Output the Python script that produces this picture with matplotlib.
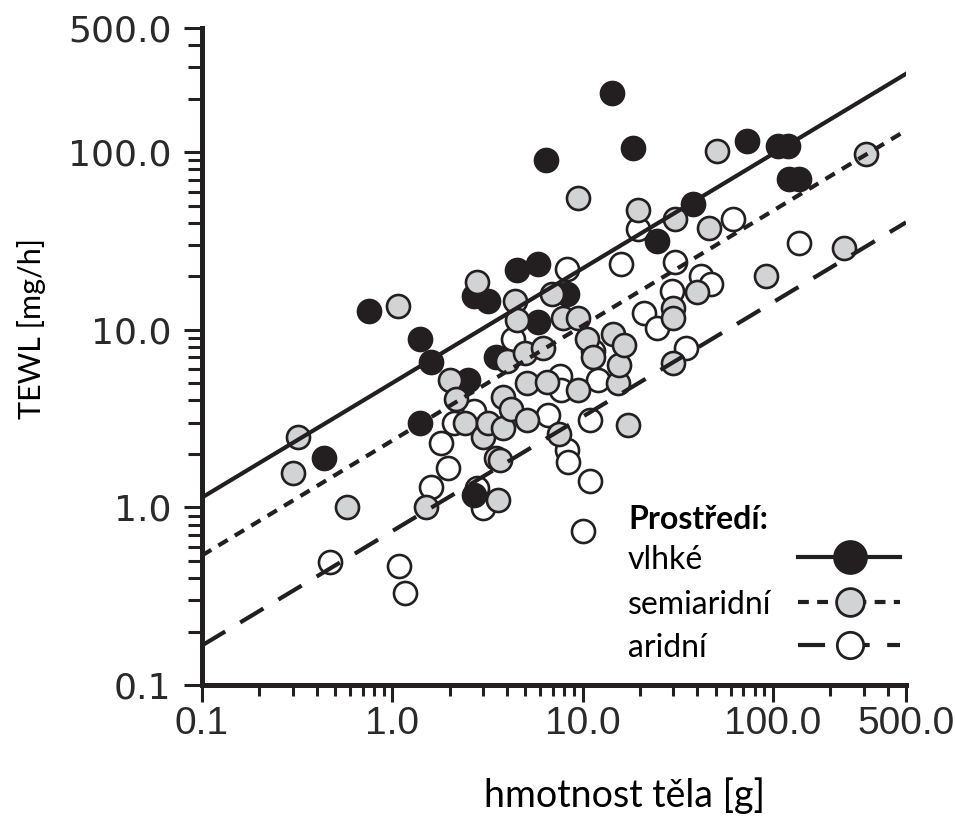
'''TEWL vs. body mass.

Log-log scatter of transepidermal water loss (TEWL) against body mass for
three environments (humid, semiarid, arid) with the fitted allometric lines.
'''

# ----------------------------------------------------------------------------
# Modules
from matplotlib import pyplot as plt
from matplotlib.ticker import FixedLocator, FixedFormatter, LogLocator, \
    NullFormatter
import numpy as np

# ----------------------------------------------------------------------------
# Data

# vlhké
humid_mass = [0.44, 0.75, 1.4, 1.6, 1.4, 2.5, 2.7, 2.7, 3.2, 3.5, 4.5, 5.8,
              5.8, 8.3, 6.4, 14.2, 18.3, 24.5, 38, 73, 106, 120, 121, 137]
humid_tewl = [1.9, 12.8, 8.9, 6.6, 3.0, 5.2, 1.17, 15.6, 14.6, 7.0, 21.6,
              23.6, 11.0, 16.0, 90, 216, 106, 31.8, 51, 115, 109, 109, 71, 71]

# semiaridní
semiarid_mass = [0.32, 0.30, 0.58, 1.07, 1.5, 2.0, 2.15, 2.4, 2.8, 3.0, 3.2,
                 3.5, 3.7, 3.6, 3.8, 3.8, 4.0, 4.2, 4.4, 4.5, 5.0, 5.1, 5.1,
                 6.2, 6.5, 6.9, 7.5, 7.9, 9.5, 9.5, 9.5, 10.6, 11.4, 14.4,
                 15.3, 15.5, 16.4, 17.3, 19.5, 30, 30, 30, 30.5, 40, 46, 51,
                 92, 236, 310]
semiarid_tewl = [2.5, 1.57, 1.0, 13.7, 1.0, 5.2, 4.1, 3.0, 18.5, 2.5, 3.0,
                 1.9, 1.85, 1.1, 4.2, 2.8, 6.7, 3.6, 14.6, 11.3, 7.4, 3.1, 5.0,
                 7.9, 5.1, 16.0, 2.6, 11.7, 11.7, 4.6, 55, 8.9, 7.0, 9.5, 5.0,
                 6.3, 8.2, 2.9, 47, 13.2, 11.7, 6.5, 42, 16.4, 37.6, 101, 20,
                 29, 98]

# aridní
arid_mass = [0.47, 1.09, 1.17, 1.6, 1.8, 1.95, 2.1, 2.7, 2.8, 3.0, 4.3, 6.6,
             7.6, 7.7, 8.3, 8.3, 8.4, 10, 10.9, 10.9, 11.4, 12.1, 16, 19.5, 21,
             24.5, 29.4, 30.5, 35, 42, 47, 61.5, 137]
arid_tewl = [0.49, 0.47, 0.33, 1.3, 2.3, 1.66, 3.0, 3.5, 1.28, 0.99, 8.9, 3.3,
             5.5, 4.6, 22, 2.1, 1.8, 0.74, 1.4, 3.1, 7.6, 5.2, 23.6, 37, 12.5,
             10.3, 16.6, 24, 7.9, 20, 18, 42, 31]

# fitted lines: TEWL = a * mass ** b  (vlhké, semiaridní, aridní)
fit_a = [5.02, 2.38, 0.736]
fit_b = [0.645, 0.647, 0.644]

env_labels = ['vlhké', 'semiaridní', 'aridní']
legend_title = 'Prostředí:'
tick_values = [0.1, 1, 10, 100, 500]
tick_labels = ['0.1', '1.0', '10.0', '100.0', '500.0']

# ----------------------------------------------------------------------------

INK = '#231f20'
GREY = '#d1d3d4'
LINESTYLES = ['-', (0, (2.6, 2.0)), (0, (6.5, 4.2))]
FACES = [INK, GREY, 'white']
TEXT_FONT = ['Lato', 'DejaVu Sans']


def tewl_plot():
    """Plots TEWL against body mass and saves it as out.png.

    :return: None.
    """

    figure = plt.figure(figsize=(9.55, 8.16), dpi=100)
    ax = figure.add_axes([0.2115, 0.1605, 0.7372, 0.8051])

    # Scatter (white first, grey on top)
    ax.scatter(arid_mass, arid_tewl, s=275, c='white', edgecolors=INK,
               linewidths=1.9, zorder=2)
    ax.scatter(humid_mass, humid_tewl, s=275, c=INK, edgecolors=INK,
               linewidths=1.9, zorder=2.1)
    ax.scatter(semiarid_mass, semiarid_tewl, s=275, c=GREY, edgecolors=INK,
               linewidths=1.9, zorder=2.2)

    # Fitted lines over the whole x range
    x_fit = np.array([0.1, 500.0])
    for a, b, ls in zip(fit_a, fit_b, LINESTYLES):
        ax.plot(x_fit, a * x_fit ** b, color=INK, linewidth=3.0,
                linestyle=ls, zorder=3)

    ax.set_xscale('log')
    ax.set_yscale('log')
    ax.set_xlim(0.1, 500)
    ax.set_ylim(0.1, 500)

    for axis in (ax.xaxis, ax.yaxis):
        axis.set_major_locator(FixedLocator(tick_values))
        axis.set_major_formatter(FixedFormatter(tick_labels))
        axis.set_minor_locator(LogLocator(base=10, subs=np.arange(2, 10),
                                          numticks=20))
        axis.set_minor_formatter(NullFormatter())

    for side in ('top', 'right'):
        ax.spines[side].set_visible(False)
    for side in ('left', 'bottom'):
        ax.spines[side].set_linewidth(3.6)
        ax.spines[side].set_color(INK)
        ax.spines[side].set_capstyle('projecting')

    ax.tick_params(axis='y', which='major', direction='out', length=13,
                   width=2.2, color=INK, pad=9)
    ax.tick_params(axis='y', which='minor', direction='out', length=10,
                   width=2.2, color=INK)
    ax.tick_params(axis='x', which='major', direction='out', length=12,
                   width=2.2, color=INK, pad=3)
    ax.tick_params(axis='x', which='minor', direction='out', length=8,
                   width=2.2, color=INK)

    for label in ax.get_yticklabels():
        label.set_fontfamily(['DejaVu Sans'])
        label.set_fontsize(26)
        label.set_color('#2a2a2a')
    for label in ax.get_xticklabels():
        label.set_fontfamily(['Liberation Sans', 'DejaVu Sans'])
        label.set_fontsize(28)
        label.set_color('#2a2a2a')

    ax.set_xlabel('hmotnost těla [g]', fontsize=27, family=TEXT_FONT,
                  color='black')
    ax.xaxis.set_label_coords(0.60, -0.14)
    ax.set_ylabel('TEWL [mg/h]', fontsize=22, family=TEXT_FONT,
                  color='black')
    ax.yaxis.set_label_coords(-0.222, 0.543)

    # Legend: text column on the left, handles on the right
    ax.text(0.605, 0.2557, legend_title, transform=ax.transAxes,
            fontsize=23, fontweight='bold', family=TEXT_FONT,
            va='center_baseline', ha='left')
    rows = [0.1948, 0.1260, 0.0609]
    marker_sizes = [23, 20, 19]
    for label, ls, face, y, ms in zip(env_labels, LINESTYLES, FACES, rows,
                                      marker_sizes):
        ax.text(0.605, y, label, transform=ax.transAxes, fontsize=23,
                family=TEXT_FONT, va='center_baseline', ha='left')
        ax.plot([0.847, 0.991], [y, y], transform=ax.transAxes, color=INK,
                linewidth=3.0, linestyle=ls, clip_on=False, zorder=4)
        ax.plot([0.920], [y], transform=ax.transAxes, marker='o',
                markersize=ms, markerfacecolor=face, markeredgecolor=INK,
                markeredgewidth=2.0, linestyle='none', clip_on=False,
                zorder=5)

    plt.savefig('out.png', dpi=100)

    return None

# ----------------------------------------------------------------------------


def main():
    """The main function of the script.

    :return: None.
    """

    tewl_plot()

    return None

# ----------------------------------------------------------------------------


if __name__ == '__main__':
    main()
